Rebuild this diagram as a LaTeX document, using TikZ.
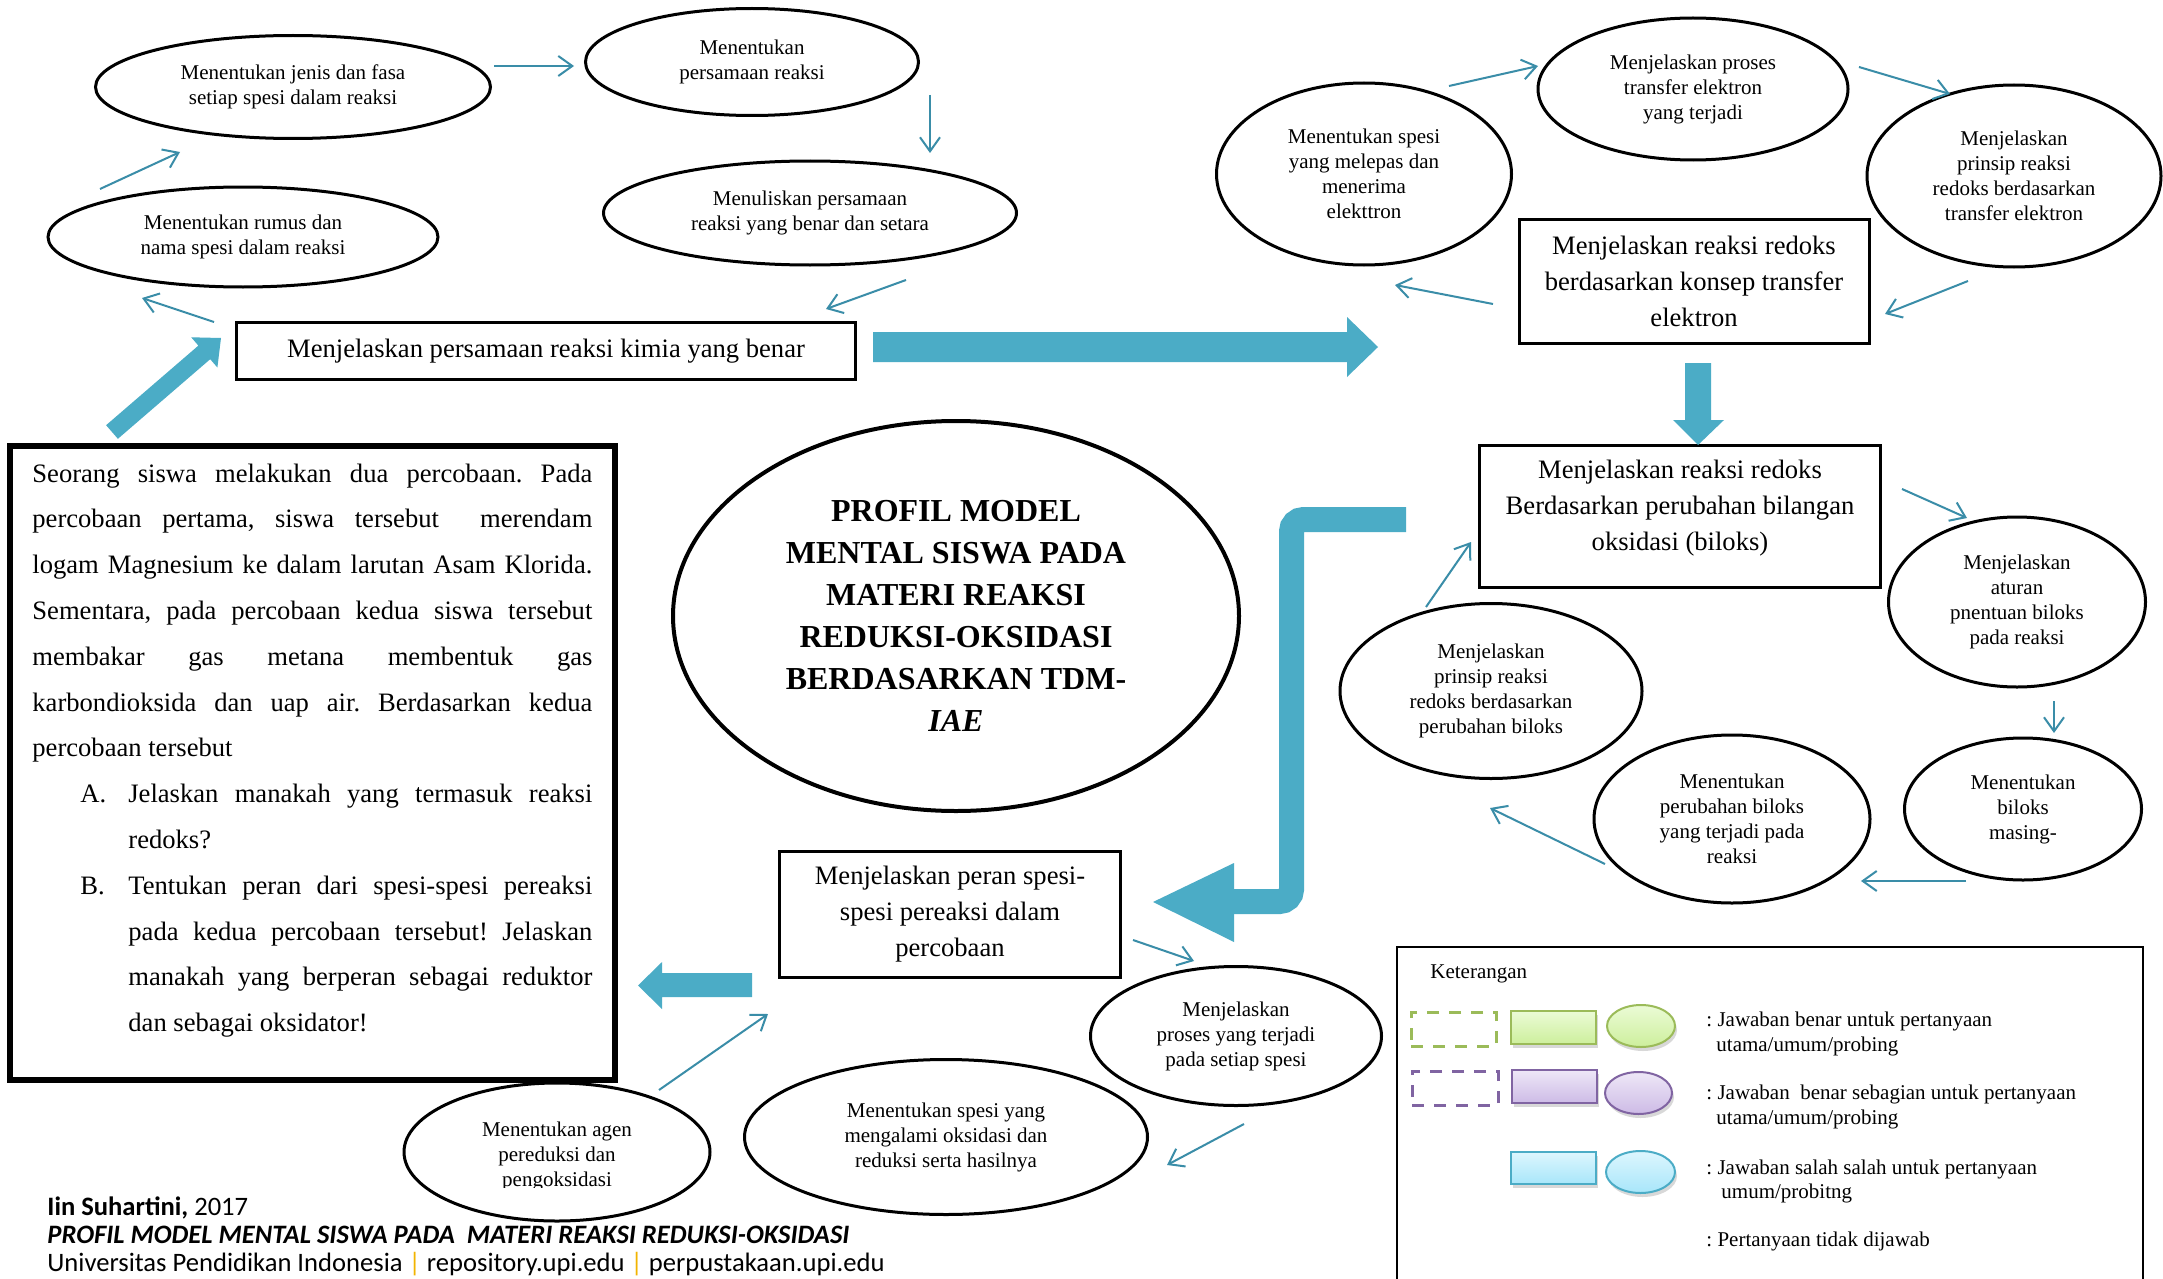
\documentclass[tikz,border=0pt]{standalone}
\usepackage{fontspec}
\setmainfont{Liberation Serif}
\newfontfamily\footfont{Carlito}
\usetikzlibrary{shapes.geometric,arrows.meta,shadows}
\definecolor{tealline}{HTML}{3A8DA8}
\definecolor{bigblue}{HTML}{4BACC6}
\definecolor{lgreen}{HTML}{9BBB59}
\definecolor{lpurple}{HTML}{8064A2}
\definecolor{lblue}{HTML}{4BACC6}
\definecolor{gtop}{HTML}{EBFBD6}
\definecolor{gbot}{HTML}{CDEF9C}
\definecolor{ptop}{HTML}{EEE7F7}
\definecolor{pbot}{HTML}{CDBBE6}
\definecolor{btop}{HTML}{DDF6FE}
\definecolor{bbot}{HTML}{A8E6FA}
\definecolor{sepcol}{HTML}{F2B400}
\frenchspacing
\begin{document}
\begin{tikzpicture}[x=0.5pt,y=-0.5pt,
  ell/.style={ellipse,draw,line width=1.5pt,inner sep=0pt,align=center,
    font=\fontsize{10.5}{12.5}\selectfont},
  boxn/.style={rectangle,draw,line width=1.5pt,inner sep=0pt,align=center,
    font=\fontsize{13.3}{18}\selectfont},
  btxt/.style={inner sep=0pt,align=center,font=\fontsize{13.3}{18}\selectfont},
  thinarrow/.style={draw=tealline,line width=1pt,-{Straight Barb[length=7pt,width=10pt]}},
  bigarrow/.style={fill=bigblue,draw=none},
  legtxt/.style={anchor=base west,inner sep=0pt,font=\fontsize{10.5}{12.5}\selectfont},
  foot/.style={anchor=base west,inner sep=0pt,font=\footfont\fontsize{13.3}{14}\selectfont},
  shad/.style={drop shadow={shadow xshift=1pt,shadow yshift=-2pt,opacity=0.3}}]
\useasboundingbox (0,0) rectangle (2163,1279);
\fill[white] (0,0) rectangle (2163,1279);

% ---------- top-left cluster ----------
\node[ell,minimum width=197.5pt,minimum height=51.5pt] (e1) at (293,87) {Menentukan jenis dan fasa\\setiap spesi dalam reaksi};
\node[ell,minimum width=166.5pt,minimum height=53.5pt] (e2) at (752,62) {Menentukan\\persamaan reaksi};
\node[ell,minimum width=206.5pt,minimum height=52pt] (e3) at (810,213) {Menuliskan persamaan\\reaksi yang benar dan setara};
\node[ell,minimum width=195pt,minimum height=50pt] (e4) at (243,237) {Menentukan rumus dan\\nama spesi dalam reaksi};
\node[boxn,minimum width=309.5pt,minimum height=28.5pt] (b1) at (546,351) {Menjelaskan persamaan reaksi kimia yang benar};

% ---------- top-right cluster ----------
\node[ell,minimum width=147.5pt,minimum height=91pt] (e6) at (1364,174) {Menentukan spesi\\yang melepas dan\\menerima\\elekttron};
\node[ell,minimum width=155pt,minimum height=71pt] (e7) at (1693,89) {Menjelaskan proses\\transfer elektron\\yang terjadi};
\node[ell,minimum width=147pt,minimum height=91pt] (e8) at (2014,176) {Menjelaskan\\prinsip reaksi\\redoks berdasarkan\\transfer elektron};
\node[boxn,minimum width=175pt,minimum height=62pt] (b2) at (1694,281) {Menjelaskan reaksi redoks\\berdasarkan konsep transfer\\elektron};

% ---------- right cluster ----------
\node[boxn,minimum width=200.5pt,minimum height=71pt] (b3) at (1680,516) {};
\node[btxt] (b3t) at (1680,508) {Menjelaskan reaksi redoks\\Berdasarkan perubahan bilangan\\oksidasi (biloks)};
\node[ell,minimum width=128.5pt,minimum height=85pt] (e11) at (2017,602) {Menjelaskan\\aturan\\pnentuan biloks\\pada reaksi};
\node[ell,minimum width=118.5pt,minimum height=71pt] (e12) at (2023,809) {Menentukan\\biloks\\masing-};
\node[ell,minimum width=138pt,minimum height=84pt] (e13) at (1732,819) {Menentukan\\perubahan biloks\\yang terjadi pada\\reaksi};
\node[ell,minimum width=151pt,minimum height=87.5pt] (e14) at (1491,691) {Menjelaskan\\prinsip reaksi\\redoks berdasarkan\\perubahan biloks};

% ---------- centre ----------
\node[ellipse,draw,line width=2pt,inner sep=0pt,minimum width=283pt,minimum height=195pt,align=center,
  font=\fontsize{16}{21}\selectfont\bfseries] (title) at (956,616)
  {PROFIL MODEL\\MENTAL SISWA PADA\\MATERI REAKSI\\REDUKSI-OKSIDASI\\BERDASARKAN TDM-\\\textit{IAE}};

% ---------- bottom cluster ----------
\node[boxn,minimum width=170.5pt,minimum height=63pt] (b4) at (950,914) {Menjelaskan peran spesi-\\spesi pereaksi dalam\\percobaan};
\node[ell,minimum width=145.5pt,minimum height=69.5pt] (e17) at (1236,1036) {Menjelaskan\\proses yang terjadi\\pada setiap spesi};
\node[ell,minimum width=201.5pt,minimum height=77.5pt] (e18) at (946,1137) {Menentukan spesi yang\\mengalami oksidasi dan\\reduksi serta hasilnya};
\node[ell,minimum width=153pt,minimum height=69pt] (e19) at (557,1152) {};
\begin{scope}
\clip (400,1040) rectangle (720,1187);
\node[inner sep=0pt,align=center,font=\fontsize{10.5}{12.5}\selectfont] (e19t) at (557,1156) {Menentukan agen\\pereduksi dan\\pengoksidasi};
\end{scope}

% ---------- question box ----------
\node[draw,line width=3pt,inner sep=0pt,minimum width=302.5pt,minimum height=317pt] (q) at (312.5,763) {};
\node[anchor=base west,inner sep=0pt] (qt) at (32,482) {\parbox[t]{280pt}{%
  \fontsize{13.3}{22.9}\selectfont\hyphenpenalty=10000\exhyphenpenalty=10000\hbadness=10000\parindent=0pt
  Seorang siswa melakukan dua percobaan. Pada\linebreak
  percobaan pertama, siswa tersebut\ \ merendam\linebreak
  logam Magnesium ke dalam larutan Asam Klorida.\linebreak
  Sementara, pada percobaan kedua siswa tersebut\linebreak
  membakar gas metana membentuk gas\linebreak
  karbondioksida dan uap air. Berdasarkan kedua\linebreak
  percobaan tersebut\par
  \leftskip=48pt
  \noindent\llap{\makebox[24pt][l]{A.}}Jelaskan manakah yang termasuk reaksi\linebreak
  redoks?\par
  \noindent\llap{\makebox[24pt][l]{B.}}Tentukan peran dari spesi-spesi pereaksi\linebreak
  pada kedua percobaan tersebut! Jelaskan\linebreak
  manakah yang berperan sebagai reduktor\linebreak
  dan sebagai oksidator!\par}};

% ---------- thin connectors ----------
\coordinate (a1s) at (494,66);   \coordinate (a1e) at (574,66);
\coordinate (a2s) at (930,95);   \coordinate (a2e) at (930,153);
\coordinate (a3s) at (906,280);  \coordinate (a3e) at (826,309);
\coordinate (a4s) at (214,322);  \coordinate (a4e) at (142,298);
\coordinate (a5s) at (100,189);  \coordinate (a5e) at (180,152);
\coordinate (a6s) at (1449,86);  \coordinate (a6e) at (1538,66);
\coordinate (a7s) at (1859,67);  \coordinate (a7e) at (1950,94);
\coordinate (a8s) at (1968,281); \coordinate (a8e) at (1885,314);
\coordinate (a9s) at (1493,304); \coordinate (a9e) at (1395,285);
\coordinate (a10s) at (1902,489); \coordinate (a10e) at (1967,518);
\coordinate (a11s) at (2054,701); \coordinate (a11e) at (2054,733);
\coordinate (a12s) at (1966,881); \coordinate (a12e) at (1861,881);
\coordinate (a13s) at (1605,864); \coordinate (a13e) at (1490,808);
\coordinate (a14s) at (1426,607); \coordinate (a14e) at (1471,542);
\coordinate (a15s) at (1133,940); \coordinate (a15e) at (1194,961);
\coordinate (a16s) at (1244,1124); \coordinate (a16e) at (1167,1165);
\coordinate (a17s) at (659,1090); \coordinate (a17e) at (768,1014);
\foreach \i in {1,...,17} {\draw[thinarrow] (a\i s) -- (a\i e);}

% ---------- big block arrows ----------
\fill[bigarrow] (106.1,425.2) -- (198.4,345.6) -- (191.2,337.3) -- (221,338) -- (217.4,367.5) -- (210.2,359.2) -- (117.9,438.8) -- cycle;
\fill[bigarrow] (873,332) -- (1347,332) -- (1347,317) -- (1378,347) -- (1347,377) -- (1347,362) -- (873,362) -- cycle;
\fill[bigarrow] (1685,363) -- (1711,363) -- (1711,420) -- (1724,420) -- (1698,445) -- (1673,420) -- (1685,420) -- cycle;
\draw[bigblue,line width=12.5pt,rounded corners=6pt] (1406,519.5) -- (1291.5,519.5) -- (1291.5,901.5) -- (1232,901.5);
\fill[bigarrow] (1234,863) -- (1153,902) -- (1234,942) -- cycle;
\fill[bigarrow] (752,973) -- (662,973) -- (662,962) -- (638,985.5) -- (662,1009) -- (662,997) -- (752,997) -- cycle;

% ---------- legend ----------
\draw[line width=1pt] (1397,1290) -- (1397,947) -- (2143,947) -- (2143,1290);
\node[legtxt] (leg) at (1430,978) {Keterangan};
\node[draw=lgreen,dash pattern=on 6pt off 5pt,line width=1.5pt,minimum width=42.5pt,minimum height=17pt,inner sep=0pt] (lg1) at (1453.5,1029) {};
\node[draw=lgreen,line width=1pt,top color=gtop,bottom color=gbot,shad,minimum width=42.5pt,minimum height=16.5pt,inner sep=0pt] (lg2) at (1553.5,1027.5) {};
\node[ellipse,draw=lgreen,line width=1pt,top color=gtop,bottom color=gbot,shad,minimum width=34pt,minimum height=21pt,inner sep=0pt] (lg3) at (1641,1026) {};
\node[draw=lpurple,dash pattern=on 6pt off 5pt,line width=1.5pt,minimum width=43pt,minimum height=17pt,inner sep=0pt] (lp1) at (1455,1088) {};
\node[draw=lpurple,line width=1pt,top color=ptop,bottom color=pbot,shad,minimum width=42.5pt,minimum height=16.5pt,inner sep=0pt] (lp2) at (1554.5,1086.5) {};
\node[ellipse,draw=lpurple,line width=1pt,top color=ptop,bottom color=pbot,shad,minimum width=33.5pt,minimum height=21pt,inner sep=0pt] (lp3) at (1638.5,1093) {};
\node[draw=lblue,line width=1pt,top color=btop,bottom color=bbot,shad,minimum width=42.5pt,minimum height=16pt,inner sep=0pt] (lb2) at (1553.5,1168) {};
\node[ellipse,draw=lblue,line width=1pt,top color=btop,bottom color=bbot,shad,minimum width=34.5pt,minimum height=21pt,inner sep=0pt] (lb3) at (1640.5,1172) {};
\node[legtxt] (lt1a) at (1706,1026) {: Jawaban benar untuk pertanyaan};
\node[legtxt] (lt1b) at (1716,1051) {utama/umum/probing};
\node[legtxt] (lt2a) at (1706,1099) {: Jawaban\ \ benar sebagian untuk pertanyaan};
\node[legtxt] (lt2b) at (1716,1124) {utama/umum/probing};
\node[legtxt] (lt3a) at (1706,1174) {: Jawaban salah salah untuk pertanyaan};
\node[legtxt] (lt3b) at (1721,1198) {umum/probitng};
\node[legtxt] (lt4) at (1706,1246) {: Pertanyaan tidak dijawab};

% ---------- footer ----------
\node[foot] (f1) at (47,1215) {\textbf{Iin Suhartini,} 2017};
\node[foot] (f2) at (47,1243) {\textbf{\textit{PROFIL MODEL MENTAL SISWA PADA\ \ MATERI REAKSI REDUKSI-OKSIDASI}}};
\node[foot] (f3) at (47,1271) {Universitas Pendidikan Indonesia {\color{sepcol}|} repository.upi.edu {\color{sepcol}|} perpustakaan.upi.edu};
\end{tikzpicture}
\end{document}
